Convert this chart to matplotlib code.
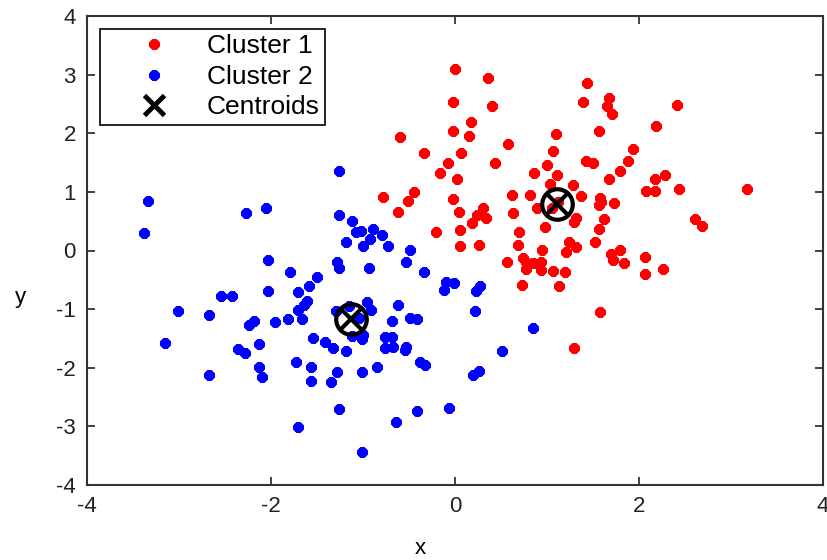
import matplotlib
matplotlib.use("Agg")
import matplotlib.pyplot as plt
from matplotlib.lines import Line2D

plt.rcParams['font.family'] = ['Liberation Sans', 'DejaVu Sans']

# Cluster 1 (red) points
c1_x = [0.00, 0.36, -0.02, 0.40, 0.17, -0.02, 0.15, -0.60, 0.58, -0.34,
        0.07, -0.08, 0.43, -0.16, 0.02, -0.45, -0.78, -0.51, -0.02, -0.62,
        0.04, 0.30, 0.24, 0.34, 0.19, -0.21, 0.05, 0.05, 0.26, 0.62,
        0.82, 0.63, 0.89, 0.70, 0.98, 0.68, 0.95, 0.56, 0.74, 0.77,
        0.77, 0.85, 0.94, 0.94, 1.06, 0.73, 1.13, 1.21, 1.20, 1.24,
        1.32, 1.52, 1.70, 1.79, 1.72, 1.84, 2.07, 2.07, 2.26, 1.58,
        1.29, 1.56, 1.29, 1.31, 1.62, 1.73, 1.58, 1.56, 1.59, 1.37,
        1.28, 1.03, 1.11, 0.86, 1.00, 1.07, 1.10, 1.56, 1.43, 1.39,
        1.67, 1.65, 1.71, 2.41, 2.18, 1.94, 1.42, 1.50, 1.88, 1.79,
        1.67, 2.17, 2.28, 2.08, 2.17, 2.44, 3.17, 2.61, 2.69, 1.12,
        1.05]
c1_y = [3.10, 2.95, 2.54, 2.47, 2.20, 2.03, 1.95, 1.93, 1.81, 1.66,
        1.66, 1.49, 1.49, 1.32, 1.22, 1.00, 0.92, 0.85, 0.88, 0.66,
        0.66, 0.73, 0.61, 0.56, 0.47, 0.31, 0.35, 0.07, 0.10, 0.94,
        0.94, 0.64, 0.72, 0.32, 0.40, 0.10, 0.01, -0.19, -0.13, -0.20,
        -0.32, -0.22, -0.20, -0.34, -0.35, -0.58, -0.61, -0.03, -0.37, 0.14,
        0.06, 0.14, -0.06, 0.01, -0.17, -0.22, -0.11, -0.40, -0.32, -1.05,
        -1.66, 0.36, 0.49, 0.55, 0.54, 0.81, 0.89, 0.78, 0.83, 0.93,
        1.12, 1.13, 1.29, 1.32, 1.46, 1.70, 1.98, 2.03, 2.85, 2.54,
        2.60, 2.47, 2.33, 2.48, 2.12, 1.73, 1.53, 1.49, 1.53, 1.36,
        1.22, 1.22, 1.29, 1.02, 1.02, 1.05, 1.05, 0.53, 0.41, 0.82,
        0.72]

# Cluster 2 (blue) points
c2_x = [-1.26, -3.34, -2.27, -2.05, -3.38, -1.26, -1.12, -1.08, -1.02, -0.89,
        -0.79, -0.92, -1.19, -1.00, -0.73, -0.49, -0.53, -2.03, -1.79, -1.28,
        -1.26, -0.94, -0.34, -1.50, -1.59, -1.71, -2.03, -0.10, -0.01, -0.12,
        0.23, 0.27, -2.54, -2.42, -1.61, -1.64, -1.71, -0.96, -0.91, -0.62,
        -1.15, -1.04, -3.01, -2.67, -2.18, -2.24, -1.96, -1.82, -1.66, -1.29,
        -0.68, -0.49, -0.41, 0.22, 0.85, -3.15, -2.13, -2.36, -2.28, -1.54,
        -1.41, -1.33, -1.19, -1.12, -1.01, -1.00, -0.76, -0.69, -0.76, -0.67,
        -0.54, -0.53, -0.38, -0.33, 0.51, -1.73, -2.13, -2.10, -2.67, -1.56,
        -1.56, -1.35, -1.28, -1.01, -0.85, 0.20, 0.26, -1.26, -0.64, -0.41,
        -0.06, -1.71, -1.01]
c2_y = [1.36, 0.85, 0.64, 0.73, 0.30, 0.61, 0.51, 0.32, 0.34, 0.36,
        0.27, 0.19, 0.14, 0.07, 0.08, 0.01, -0.20, -0.17, -0.37, -0.20,
        -0.30, -0.30, -0.37, -0.46, -0.61, -0.71, -0.69, -0.54, -0.56, -0.68,
        -0.69, -0.61, -0.78, -0.78, -0.86, -0.93, -1.01, -0.88, -1.02, -0.93,
        -0.95, -1.15, -1.03, -1.10, -1.20, -1.27, -1.22, -1.17, -1.17, -1.04,
        -1.20, -1.15, -1.16, -1.03, -1.32, -1.57, -1.59, -1.68, -1.75, -1.49,
        -1.56, -1.66, -1.71, -1.46, -1.51, -1.44, -1.48, -1.48, -1.66, -1.64,
        -1.69, -1.65, -1.91, -1.96, -1.71, -1.91, -1.99, -2.15, -2.12, -1.98,
        -2.22, -2.25, -2.08, -2.08, -1.98, -2.13, -2.06, -2.71, -2.93, -2.74,
        -2.68, -3.01, -3.44]

# Centroids
cent_x = [1.11, -1.13]
cent_y = [0.80, -1.17]

x_ticks = [-4, -2, 0, 2, 4]
y_ticks = [-4, -3, -2, -1, 0, 1, 2, 3, 4]

fig = plt.figure(figsize=(8.27, 5.60), dpi=100)
ax = fig.add_axes([87/827, 1 - 485/560, (823 - 87)/827, (485 - 16)/560])

star = (8, 2, 0)
ax.plot(c1_x, c1_y, linestyle='none', marker=star, color='#ff0000',
        markersize=7.5, markeredgewidth=2.7)
ax.plot(c2_x, c2_y, linestyle='none', marker=star, color='#0000ff',
        markersize=7.5, markeredgewidth=2.7)
ax.plot(cent_x, cent_y, linestyle='none', marker='o', markerfacecolor='none',
        markeredgecolor='black', markersize=22, markeredgewidth=3)
ax.plot(cent_x, cent_y, linestyle='none', marker='x', color='black',
        markersize=16, markeredgewidth=3)

ax.set_xlim(-4, 4)
ax.set_ylim(-4, 4)
ax.set_xticks(x_ticks)
ax.set_yticks(y_ticks)
ax.set_xticklabels([str(v) for v in x_ticks])
ax.set_yticklabels([str(v) for v in y_ticks])
ax.tick_params(direction='in', length=6, width=1.2, top=True, right=True,
               labelsize=16, colors='#222222', pad=8)
for s in ax.spines.values():
    s.set_linewidth(1.5)
    s.set_color('#333333')

fig.text(420/827, 1 - 548/560, 'x', ha='center', va='center', fontsize=16)
fig.text(20/827, 1 - 298/560, 'y', ha='center', va='center', fontsize=16)

handles = [
    Line2D([], [], linestyle='none', marker=star, color='#ff0000', markersize=7.5, markeredgewidth=2.7),
    Line2D([], [], linestyle='none', marker=star, color='#0000ff', markersize=7.5, markeredgewidth=2.7),
    Line2D([], [], linestyle='none', marker='x', color='black', markersize=15, markeredgewidth=3.5),
]
leg = ax.legend(handles, ['Cluster 1', 'Cluster 2', 'Centroids'],
                loc='upper left', bbox_to_anchor=((100 - 87)/736, (485 - 29)/469),
                borderaxespad=0, fontsize=19, frameon=True, fancybox=False,
                edgecolor='black', framealpha=1, handlelength=3.7,
                handletextpad=0.15, labelspacing=0.25, borderpad=0.2)
leg.get_frame().set_linewidth(1.2)

fig.savefig('out.png', dpi=100, facecolor='white')
